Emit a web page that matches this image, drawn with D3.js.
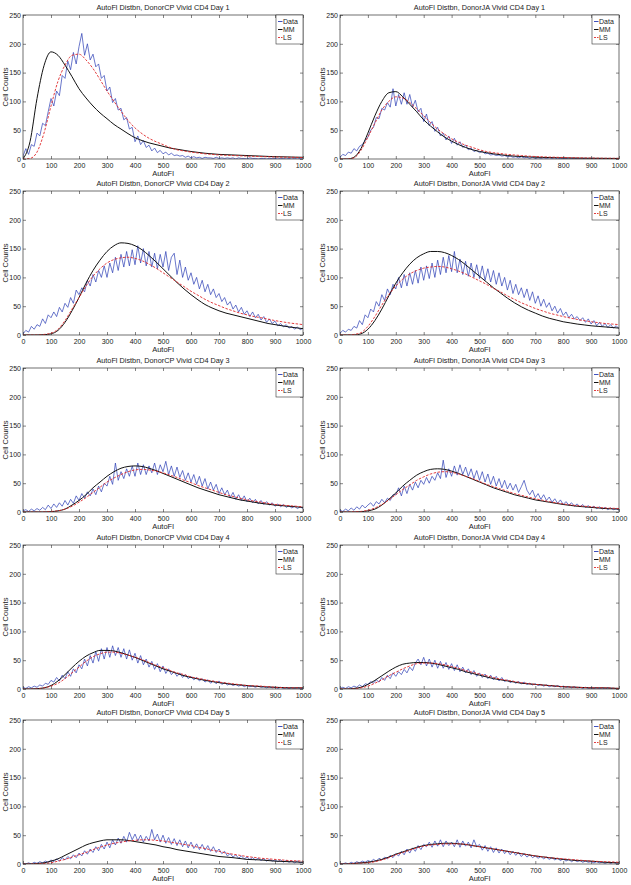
<!DOCTYPE html>
<html><head><meta charset="utf-8">
<script src="https://cdn.jsdelivr.net/npm/d3@7"></script>
<style>
body{margin:0;background:#fff;}
svg text{font-family:"Liberation Sans",Arial,Helvetica,sans-serif;fill:#222;}
</style></head>
<body><svg id="c" width="631" height="885"></svg>
<script>
const titles = [
 "AutoFl Distbn, DonorCP Vivid CD4 Day 1","AutoFl Distbn, DonorJA Vivid CD4 Day 1",
 "AutoFl Distbn, DonorCP Vivid CD4 Day 2","AutoFl Distbn, DonorJA Vivid CD4 Day 2",
 "AutoFl Distbn, DonorCP Vivid CD4 Day 3","AutoFl Distbn, DonorJA Vivid CD4 Day 3",
 "AutoFl Distbn, DonorCP Vivid CD4 Day 4","AutoFl Distbn, DonorJA Vivid CD4 Day 4",
 "AutoFl Distbn, DonorCP Vivid CD4 Day 5","AutoFl Distbn, DonorJA Vivid CD4 Day 5"];
const seriesNames = ["Data","MM","LS"];
const xTicks = [0,100,200,300,400,500,600,700,800,900,1000];
const yTicks = [0,50,100,150,200,250];
const xLabel = "AutoFl", yLabel = "Cell Counts";
// sample positions (AutoFl)
const dataX = d3.range(0,1001,10);
const fitX = d3.range(0,1001,25);

// ---- Data (observed histogram counts, every 10 units) ----
const dataCP1 = [5,18,8,25,22,45,40,62,58,82, 105,92,118,110,145,140,170,155,185,165, 195,218,180,200,172,182,160,165,140,145, 118,125,98,105,85,88,68,72,52,55, 30,40,25,32,20,24,14,19,11,15, 9,12,7,10,6,7,5,6,3,5, 2,4,2,3,1,3,2,2,1,3, 1,2,1,2,1,2,0,2,1,1, 0,2,1,1,0,1,1,0,1,1, 1,0,1,1,0,1,0,1,0,1,0];
const dataJA1 = [3,8,6,12,10,18,14,22,25,32, 38,50,55,72,70,88,85,98,90,122, 92,112,95,115,95,112,90,102,82,88, 65,78,58,65,48,55,40,45,33,40, 27,36,24,30,20,24,16,19,13,15, 11,13,9,10,7,8,6,7,5,6, 4,5,3,4,2,4,2,3,1,3, 1,2,1,2,1,2,1,2,0,1, 1,1,0,1,1,1,0,1,1,0, 1,1,0,1,0,1,0,1,0,1,0];
const dataCP2 = [2,8,5,15,10,18,15,28,20,35, 30,40,32,48,40,55,48,65,55,78, 70,82,75,95,85,105,92,112,100,120, 100,125,108,135,112,140,118,145,120,148, 122,155,125,150,120,145,118,142,115,140, 118,145,112,135,142,105,130,100,118,95, 108,88,100,80,95,75,88,70,80,65, 72,58,65,52,58,45,52,40,48,36, 42,32,40,30,36,26,32,22,28,20, 24,16,20,14,18,12,15,10,14,9,12];
const dataJA2 = [3,8,5,10,8,15,12,25,18,35, 30,45,40,58,50,70,60,80,70,88, 80,100,82,105,85,108,88,112,90,118, 95,120,98,125,100,130,105,135,108,138, 110,145,108,132,105,128,102,125,100,122, 98,120,95,115,92,112,88,108,85,100, 78,95,72,88,70,82,65,80,60,75, 55,68,50,62,48,56,42,50,38,46, 34,40,30,36,28,32,25,30,22,28, 19,25,16,22,15,20,13,18,12,16,11];
const dataCP3 = [2,4,1,5,2,6,3,8,4,12, 6,14,8,16,10,20,12,22,15,28, 20,32,24,35,28,40,30,45,35,50, 45,62,48,85,55,70,58,75,62,80, 62,85,65,82,65,80,68,85,65,82, 70,88,65,80,62,78,60,72,55,68, 52,65,48,62,45,58,40,52,38,48, 32,42,30,38,25,34,22,30,20,28, 18,24,16,22,14,20,13,18,12,16, 10,14,9,13,8,11,7,10,6,9,6];
const dataJA3 = [3,1,5,2,7,3,9,5,12,7, 12,16,10,18,14,22,16,24,20,30, 30,42,28,45,32,48,38,52,42,55, 48,60,50,62,55,68,58,90,60,75, 62,80,64,82,65,78,62,75,58,72, 55,70,52,66,48,62,45,58,42,55, 40,50,38,48,34,44,55,38,30,38, 25,32,22,30,20,26,17,23,15,21, 13,18,12,16,10,14,9,13,8,11, 7,10,6,9,5,8,4,7,4,6,3];
const dataCP4 = [3,1,4,2,5,3,7,5,10,8, 15,12,20,14,24,18,30,22,35,28, 42,35,52,40,58,45,65,48,70,52, 72,55,75,58,72,55,70,52,68,50, 62,45,58,42,52,38,48,34,44,30, 40,27,35,25,30,22,28,20,25,18, 22,16,20,14,18,12,16,10,14,9, 14,8,11,7,9,6,8,5,7,4, 6,4,5,3,5,3,4,2,4,2, 3,1,3,1,2,1,2,1,2,1,1];
const dataJA4 = [1,3,1,4,2,5,3,7,4,9, 8,13,10,16,12,20,15,24,18,28, 22,30,25,34,28,38,32,45,52,42, 55,40,52,38,50,36,48,36,46,34, 44,32,42,30,38,28,35,25,32,22, 28,20,26,18,24,16,22,14,20,13, 16,11,14,10,13,9,12,8,10,7, 9,6,8,5,7,4,6,4,6,3, 5,3,4,2,4,2,3,1,3,1, 2,1,2,1,2,0,2,1,1,0,1];
const dataCP5 = [1,0,2,0,3,1,4,2,5,3, 7,4,9,5,11,7,13,9,16,11, 19,14,23,17,26,20,30,23,34,26, 38,28,42,33,45,36,48,38,55,42, 52,40,50,38,48,40,60,42,52,38, 50,36,46,34,44,32,42,30,40,28, 38,27,35,25,34,24,32,22,30,20, 26,18,22,14,18,12,16,10,14,9, 12,8,11,7,10,6,9,5,8,5, 7,4,7,3,6,3,5,2,5,2,4];
const dataJA5 = [1,0,2,0,3,1,4,2,5,3, 6,4,8,5,10,7,12,9,15,11, 18,14,22,16,26,19,28,22,32,25, 34,30,38,29,40,31,42,30,40,32, 38,30,42,29,40,31,38,28,42,30, 34,24,32,22,30,20,28,19,26,18, 23,16,22,15,20,13,18,12,16,11, 14,10,13,9,12,8,11,7,10,6, 9,5,8,4,7,4,6,3,5,3, 4,2,4,2,3,1,3,1,3,1,2];

// ---- MM fit (every 25 units) ----
const mmCP1 = [0,30,105,162,186,180,163,143,122,106, 92,80,70,60,52,44,37,32,28,25, 22,19,17,15,13,11.5,10,9,8,7.5, 7,6.5,6,5.5,5,4.5,4,3.8,3.5,3.2, 3];
const mmJA1 = [0,0,3,18,45,75,100,115,117,108, 95,82,68,57,47,38,31,25,20,16, 13,11,9,7.5,6,5,4.3,3.7,3.2,2.8, 2.5,2.2,2,1.8,1.6,1.4,1.3,1.2,1.1,1, 1];
const mmCP2 = [0,0,0,0.5,2,8,22,42,65,90, 112,130,145,155,160,159,155,148,138,127, 115,103,91,80,70,61,53,47,42,38, 35,32,29,26,23,20,18,16,14,12.5, 11];
const mmJA2 = [0,0,0,2,10,25,45,68,90,108, 123,134,141,145,145,143,138,131,122,112, 102,92,82,73,64,56,49,43,38,33, 29,26,23,21,19,17.5,16,15,14,13, 12];
const mmCP3 = [0,0,0,0,0.5,2,5,12,20,30, 42,52,62,70,76,79,80,79,76,72, 67,62,57,52,47,42,38,34,30,27, 24,21,19,17,15,13.5,12,11,10,9, 8];
const mmJA3 = [0,0,0,0.5,2,5,12,22,33,45, 55,64,70,74,75,74,71,67,62,57, 52,47,42,38,34,30,27,24,21,19, 17,15,13,11.5,10,9,8,7,6,5.5, 5];
const mmCP4 = [0,0,0.5,2,6,14,25,37,48,57, 63,67,67,66,63,59,55,50,45,40, 35,31,27,23,20,17.5,15,13,11,9.5, 8,7,6,5,4,3.5,3,2.5,2,2, 2];
const mmJA4 = [0,0,1,3,8,15,23,31,38,43, 45,46,46,45,43,40,37,34,30,27, 24,21,18,16,14,12,10,9,8,7, 6,5,4,3.5,3,2.5,2,2,2,1.5, 1];
const mmCP5 = [0,0,1,2,5,9,15,21,27,33, 37,40,42,42,42,41,39,37,35,33, 30,28,25,23,21,19,17,15,13,12, 11,9.5,8,7.5,7,6,5,4.5,4,3.5, 3];
const mmJA5 = [0,0,1,2,3,5,8,12,17,21, 25,29,32,34,35,36,36,35,34,32, 30,28,26,24,22,20,18,16,14,12.5, 11,9.5,8,7,6,5.5,5,4,3,2.5, 2];

// ---- LS fit (every 25 units) ----
const lsCP1 = [0,1,12,45,92,135,163,180,182,172, 157,138,118,100,83,67,54,44,36,30, 25,20,16,14,12,10.5,9,8,7,6.5, 6,5.5,5,4.6,4.2,3.8,3.5,3.2,3,2.8, 2.5];
const lsJA1 = [0,0,2,15,38,62,85,100,108,106, 98,87,75,63,52,43,35,29,24,20, 16,13,11,9.5,8,7,6,5,4.3,3.8, 3.3,3,2.6,2.3,2,1.8,1.6,1.4,1.3,1.2, 1.1];
const lsCP2 = [0,0,0,1,3,10,25,45,65,85, 102,115,125,131,134,135,133,129,123,116, 108,100,92,84,76,69,62,56,51,46, 42,38,35,32,30,27.5,25,23,21,19.5, 18];
const lsJA2 = [0,0,1,4,15,32,52,70,85,97, 106,112,116,118,119,118,115,111,106,100, 94,88,81,75,68,62,56,51,46,42, 38,35,32,29.5,27,25,23,21.5,20,19, 18];
const lsCP3 = [0,0,0,0.3,1,2,5,10,17,25, 34,43,52,59,65,70,73,74,73,71, 68,64,60,55,51,46,42,38,34,30, 27,24,21,19,17,15,13,12,11,10, 9];
const lsJA3 = [0,0,0.5,1,3,7,13,21,30,39, 47,55,61,66,69,70,69,66,62,58, 53,48,44,40,36,32,29,26,23,20.5, 18,16,14,12.5,11,10,9,8,7,6.5, 6];
const lsCP4 = [0,0,0.5,2,5,10,18,28,38,48, 56,61,64,64,62,59,55,51,46,41, 37,32,28,25,21,18.5,16,14,12,10.5, 9,7.5,6,5.5,5,4,3,2.5,2,2, 2];
const lsJA4 = [0,0,0.5,2,5,10,16,23,29,35, 40,44,45,45,44,42,39,36,32,29, 26,23,20,17,15,13,11,9.5,8,7, 6,5,4,3.5,3,2.5,2,2,2,1.5, 1];
const lsCP5 = [0,0,0.5,1,2,5,8,12,16,20, 25,29,33,36,38,40,41,42,42,41, 40,38,36,34,32,29,27,24,22,19, 17,15,13,11.5,10,9,8,7,6,5.5, 5];
const lsJA5 = [0,0,1,1.5,2,4,7,11,16,20, 24,28,31,33,34,35,35,35,34,32, 30,28,26,24,22,20,18,16,14,12.5, 11,10,9,8,7,6,5,4.5,4,3.5, 3];

const dataSeries = [dataCP1,dataJA1,dataCP2,dataJA2,dataCP3,dataJA3,dataCP4,dataJA4,dataCP5,dataJA5];
const mmSeries = [mmCP1,mmJA1,mmCP2,mmJA2,mmCP3,mmJA3,mmCP4,mmJA4,mmCP5,mmJA5];
const lsSeries = [lsCP1,lsJA1,lsCP2,lsJA2,lsCP3,lsJA3,lsCP4,lsJA4,lsCP5,lsJA5];

// ---- layout ----
const colRange = [[23,303],[340,619]];
const rowTop = [15,191,368,545,720];
const plotH = 144;
const colors = {Data:"#2a3cb5", MM:"#111", LS:"#e0282a"};

const svg = d3.select("#c");
titles.forEach((t,i)=>{
  const row = Math.floor(i/2), col = i%2;
  const x = d3.scaleLinear().domain([0,1000]).range(colRange[col]);
  const y = d3.scaleLinear().domain([0,250]).range([rowTop[row]+plotH, rowTop[row]]);
  const g = svg.append("g");
  const clipId = "clip"+i;
  g.append("clipPath").attr("id",clipId).append("rect")
    .attr("x",x(0)).attr("y",y(250)).attr("width",x(1000)-x(0)).attr("height",y(0)-y(250));

  const axStyle = sel => { sel.select(".domain").remove(); sel.selectAll("line").attr("stroke","#333").attr("stroke-width",0.6); sel.selectAll("text").attr("font-size",7).attr("fill","#222").style("font-family","Liberation Sans, Arial, sans-serif"); };
  const fmt = d3.format("d");
  g.append("g").attr("transform",`translate(0,${y(0)})`)
    .call(d3.axisBottom(x).tickValues(xTicks).tickFormat(fmt).tickSize(-3).tickPadding(4)).call(axStyle);
  g.append("g").attr("transform",`translate(0,${y(250)})`)
    .call(d3.axisTop(x).tickValues(xTicks).tickSize(-3).tickFormat("")).call(axStyle);
  g.append("g").attr("transform",`translate(${x(0)},0)`)
    .call(d3.axisLeft(y).tickValues(yTicks).tickFormat(fmt).tickSize(-3).tickPadding(2)).call(axStyle);
  g.append("g").attr("transform",`translate(${x(1000)},0)`)
    .call(d3.axisRight(y).tickValues(yTicks).tickSize(-3).tickFormat("")).call(axStyle);

  const plot = g.append("g").attr("clip-path",`url(#${clipId})`);
  const lineD = d3.line().x((d,k)=>x(dataX[k])).y(d=>y(d));
  const lineF = d3.line().x((d,k)=>x(fitX[k])).y(d=>y(d)).curve(d3.curveMonotoneX);
  plot.append("path").attr("d",lineD(dataSeries[i])).attr("fill","none")
    .attr("stroke",colors.Data).attr("stroke-width",0.7).attr("stroke-linejoin","round");
  plot.append("path").attr("d",lineF(mmSeries[i])).attr("fill","none")
    .attr("stroke",colors.MM).attr("stroke-width",1.0);
  plot.append("path").attr("d",lineF(lsSeries[i])).attr("fill","none")
    .attr("stroke",colors.LS).attr("stroke-width",0.9).attr("stroke-dasharray","2.5,1.5");

  g.append("rect").attr("x",x(0)).attr("y",y(250)).attr("width",x(1000)-x(0)).attr("height",y(0)-y(250))
    .attr("fill","none").attr("stroke","#333").attr("stroke-width",0.7);

  // title & labels
  g.append("text").attr("x",(x(0)+x(1000))/2).attr("y",y(250)-5).attr("text-anchor","middle")
    .attr("font-size",7.3).text(t);
  g.append("text").attr("x",(x(0)+x(1000))/2).attr("y",y(0)+16.5).attr("text-anchor","middle")
    .attr("font-size",7.5).text(xLabel);
  g.append("text").attr("transform",`translate(${x(0)-15},${(y(0)+y(250))/2}) rotate(-90)`)
    .attr("text-anchor","middle").attr("font-size",7.5).text(yLabel);

  // legend
  const lw = 27, lh = 29;
  const lx = x(1000)-lw, ly = y(250);
  const leg = g.append("g");
  leg.append("rect").attr("x",lx).attr("y",ly).attr("width",lw).attr("height",lh)
    .attr("fill","#fff").attr("stroke","#333").attr("stroke-width",0.6);
  seriesNames.forEach((n,k)=>{
    const yy = ly + 6.5 + k*8;
    leg.append("line").attr("x1",lx+2).attr("x2",lx+6.5).attr("y1",yy).attr("y2",yy)
      .attr("stroke",colors[n]).attr("stroke-width", n==="MM"?1.0:0.9)
      .attr("stroke-dasharray", n==="LS"?"2,1":null);
    leg.append("text").attr("x",lx+7).attr("y",yy+2.5).attr("font-size",7).text(n);
  });
});
</script></body></html>
